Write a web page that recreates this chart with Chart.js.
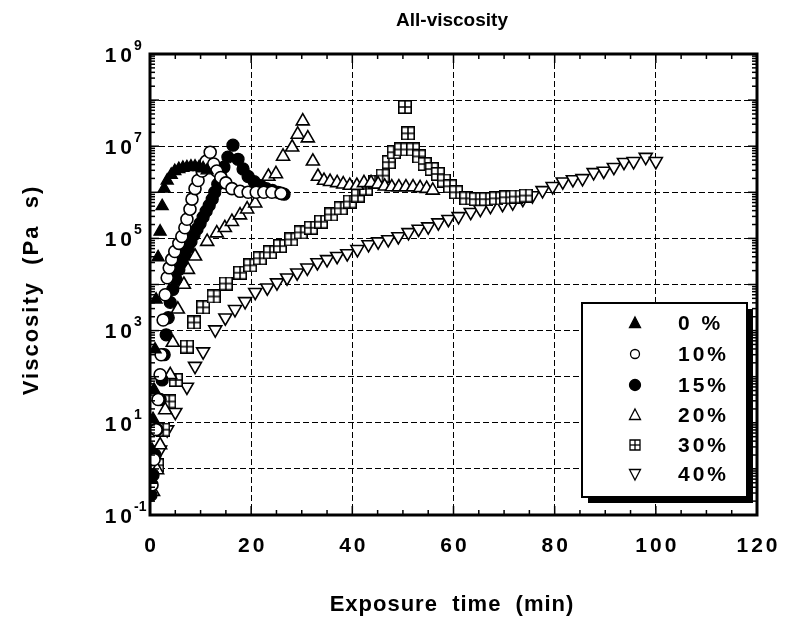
<!DOCTYPE html>
<html>
<head>
<meta charset="utf-8">
<script src="https://cdn.jsdelivr.net/npm/chart.js@4/dist/chart.umd.min.js"></script>
<style>
  body { margin: 0; background: #fff; }
  canvas { display: block; }
</style>
</head>
<body>
<canvas id="myChart" width="794" height="629"></canvas>
<script>
// exposure time (min) and viscosity (Pa s) per filler content
let time0 = [0.2, 0.4, 0.6, 0.8, 1.0, 1.2, 1.6, 2.0, 2.4, 2.8, 3.4, 4.2, 4.9, 5.7, 6.5, 7.3, 8.1, 8.9, 9.7, 10.5, 11.3];
let visc0 = [0.58, 2.6, 12, 52, 390, 4700, 3.9e4, 1.4e5, 5.0e5, 1.2e6, 1.8e6, 2.4e6, 2.9e6, 3.2e6, 3.4e6, 3.5e6, 3.6e6, 3.6e6, 3.5e6, 3.3e6, 3.0e6];

let time10 = [0.4, 0.8, 1.2, 1.6, 2.0, 2.2, 2.6, 3.0, 3.4, 3.8, 4.3, 4.9, 5.7, 6.3, 6.9, 7.3, 7.9, 8.3, 8.9, 9.5, 10.3, 11.1, 11.9, 12.6, 13.2, 14.0, 15.0, 16.2, 17.8, 19.4, 21.0, 22.5, 24.1, 25.9];
let visc10 = [0.45, 1.6, 7.1, 32, 110, 300, 1700, 6000, 1.4e4, 2.3e4, 3.5e4, 5.2e4, 7.8e4, 1.1e5, 1.7e5, 2.6e5, 4.3e5, 7.1e5, 1.2e6, 1.8e6, 2.9e6, 4.7e6, 7.4e6, 4.1e6, 2.9e6, 2.1e6, 1.6e6, 1.2e6, 1.05e6, 1.0e6, 1.0e6, 1.0e6, 1.0e6, 9.5e5];

let time15 = [0.2, 0.6, 1.0, 1.4, 2.0, 2.4, 2.8, 3.2, 3.6, 4.0, 4.5, 5.1, 5.7, 6.3, 6.9, 7.5, 8.1, 8.7, 9.3, 9.9, 10.5, 11.1, 11.7, 12.3, 12.8, 13.4, 14.0, 14.6, 15.4, 16.4, 17.4, 18.4, 19.4, 20.6, 21.8, 23.0, 24.2, 25.3, 26.5];
let visc15 = [0.27, 0.74, 2.0, 7.1, 32, 85, 300, 810, 1900, 4100, 7800, 1.3e4, 2.1e4, 3.2e4, 4.5e4, 6.3e4, 8.5e4, 1.2e5, 1.6e5, 2.1e5, 2.9e5, 3.9e5, 5.2e5, 7.1e5, 1.0e6, 1.5e6, 2.2e6, 3.5e6, 5.8e6, 1.05e7, 5.2e6, 3.2e6, 2.2e6, 1.7e6, 1.4e6, 1.2e6, 1.1e6, 1.0e6, 9.1e5];

let time20 = [0.6, 1.4, 2.0, 3.0, 4.0, 4.5, 5.5, 6.7, 7.5, 8.9, 11.3, 13.2, 14.8, 16.2, 17.8, 19.2, 20.8, 23.4, 24.9, 26.3, 28.1, 29.2, 30.2, 31.2, 32.2, 33.2, 34.4, 35.6, 37.0, 38.2, 39.5, 40.9, 42.3, 43.7, 45.1, 46.4, 47.8, 49.2, 50.6, 52.0, 53.4, 54.7, 55.9];
let visc20 = [0.32, 0.95, 3.3, 19, 110, 550, 2900, 1.0e4, 2.1e4, 4.1e4, 8.5e4, 1.3e5, 1.7e5, 2.3e5, 3.2e5, 4.3e5, 5.8e5, 2.2e6, 2.5e6, 6.0e6, 9.5e6, 1.8e7, 3.5e7, 1.5e7, 4.7e6, 2.2e6, 1.8e6, 1.7e6, 1.6e6, 1.5e6, 1.4e6, 1.4e6, 1.6e6, 1.6e6, 1.5e6, 1.35e6, 1.3e6, 1.3e6, 1.3e6, 1.3e6, 1.25e6, 1.2e6, 1.1e6];

let time30 = [1.4, 2.6, 3.8, 5.1, 7.3, 8.7, 10.5, 12.6, 15.0, 17.8, 19.8, 21.7, 23.7, 25.7, 27.9, 29.8, 31.8, 33.8, 35.8, 37.7, 39.5, 41.1, 42.7, 44.5, 46.0, 47.2, 48.2, 49.6, 50.4, 51.0, 52.0, 53.2, 54.3, 55.7, 56.9, 58.1, 59.3, 60.5, 62.5, 64.4, 66.4, 68.4, 70.4, 72.3, 74.3];
let visc30 = [1.2, 7.1, 29, 85, 450, 1500, 3200, 5500, 1.05e4, 1.8e4, 2.6e4, 3.7e4, 5.0e4, 6.8e4, 9.5e4, 1.35e5, 1.7e5, 2.3e5, 3.3e5, 4.5e5, 6.3e5, 8.5e5, 1.2e6, 1.7e6, 2.3e6, 4.5e6, 7.4e6, 8.5e6, 7.1e7, 1.9e7, 8.5e6, 6.0e6, 4.1e6, 3.2e6, 2.5e6, 1.8e6, 1.35e6, 1.0e6, 7.4e5, 7.1e5, 7.1e5, 7.4e5, 7.8e5, 8.1e5, 8.5e5];

let time40 = [1.0, 2.0, 3.4, 5.0, 7.3, 8.9, 10.5, 12.9, 14.9, 16.8, 18.8, 20.8, 23.2, 25.1, 27.1, 29.1, 31.1, 33.1, 35.0, 37.0, 39.0, 41.0, 43.2, 45.1, 47.1, 49.1, 51.1, 53.1, 55.0, 57.0, 59.0, 61.0, 63.4, 65.3, 67.3, 69.7, 71.7, 73.7, 75.6, 77.6, 79.6, 81.6, 83.6, 85.5, 87.7, 89.7, 91.7, 93.7, 95.6, 98.0, 100.0];
let visc40 = [0.95, 2.6, 7.1, 17, 60, 170, 350, 1050, 1900, 2900, 4300, 6800, 8500, 1.1e4, 1.4e4, 1.8e4, 2.3e4, 3.0e4, 3.5e4, 4.1e4, 4.7e4, 5.8e4, 7.4e4, 8.5e4, 9.5e4, 1.1e5, 1.35e5, 1.6e5, 1.8e5, 2.2e5, 2.6e5, 3.0e5, 3.7e5, 4.3e5, 5.0e5, 5.5e5, 6.0e5, 7.1e5, 8.5e5, 1.1e6, 1.35e6, 1.7e6, 1.9e6, 2.0e6, 2.7e6, 2.9e6, 3.5e6, 4.5e6, 4.7e6, 5.8e6, 4.7e6];

let seriesLabels = ['0 %', '10%', '15%', '20%', '30%', '40%'];
let xTicks = [0, 20, 40, 60, 80, 100, 120];
let yTickExps = [-1, 1, 3, 5, 7, 9];

const FONT = '"Liberation Sans", Arial, sans-serif';

// square with a cross for the 30% series
let boxCross = document.createElement('canvas');
boxCross.width = 14;
boxCross.height = 14;
let bc = boxCross.getContext('2d');
bc.fillStyle = '#fff';
bc.fillRect(0, 0, 14, 14);
bc.strokeStyle = '#000';
bc.lineWidth = 1.6;
bc.strokeRect(0.8, 0.8, 12.4, 12.4);
bc.beginPath();
bc.moveTo(7, 1); bc.lineTo(7, 13);
bc.moveTo(1, 7); bc.lineTo(13, 7);
bc.stroke();

function pts(t, v) {
    let out = [];
    for (let i = 0; i < t.length; i++) out = [...out, {x: t[i], y: v[i]}];
    return out;
}

let datasets = [
    {label: seriesLabels[0], data: pts(time0, visc0), pointStyle: 'triangle', pointRadius: 7, backgroundColor: '#000', borderColor: '#000', borderWidth: 1.3},
    {label: seriesLabels[1], data: pts(time10, visc10), pointStyle: 'circle', pointRadius: 6, backgroundColor: '#fff', borderColor: '#000', borderWidth: 1.6},
    {label: seriesLabels[2], data: pts(time15, visc15), pointStyle: 'circle', pointRadius: 6, backgroundColor: '#000', borderColor: '#000', borderWidth: 1.3},
    {label: seriesLabels[3], data: pts(time20, visc20), pointStyle: 'triangle', pointRadius: 7.5, backgroundColor: '#fff', borderColor: '#000', borderWidth: 1.6},
    {label: seriesLabels[4], data: pts(time30, visc30), pointStyle: boxCross, pointRadius: 7, backgroundColor: '#fff', borderColor: '#000', borderWidth: 1.6},
    {label: seriesLabels[5], data: pts(time40, visc40), pointStyle: 'triangle', rotation: 180, pointRadius: 7.5, backgroundColor: '#fff', borderColor: '#000', borderWidth: 1.6}
];

function seg(ctx, x1, y1, x2, y2) {
    ctx.beginPath();
    ctx.moveTo(x1, y1);
    ctx.lineTo(x2, y2);
    ctx.stroke();
}

function legendMark(ctx, i, cx, cy) {
    ctx.strokeStyle = '#000';
    ctx.lineWidth = 1.3;
    ctx.fillStyle = (i === 0 || i === 2) ? '#000' : '#fff';
    ctx.beginPath();
    if (i === 0 || i === 3) {
        ctx.moveTo(cx, cy - 6); ctx.lineTo(cx + 5.5, cy + 4.5); ctx.lineTo(cx - 5.5, cy + 4.5); ctx.closePath();
    } else if (i === 5) {
        ctx.moveTo(cx, cy + 6); ctx.lineTo(cx + 5.5, cy - 4.5); ctx.lineTo(cx - 5.5, cy - 4.5); ctx.closePath();
    } else if (i === 1) {
        ctx.arc(cx, cy, 4.5, 0, Math.PI * 2);
    } else if (i === 2) {
        ctx.arc(cx, cy, 5.5, 0, Math.PI * 2);
    } else {
        ctx.rect(cx - 5, cy - 5, 10, 10);
    }
    ctx.fill();
    ctx.stroke();
    if (i === 4) {
        seg(ctx, cx, cy - 5, cx, cy + 5);
        seg(ctx, cx - 5, cy, cx + 5, cy);
    }
}

const decor = {
    id: 'decor',
    afterDraw(chart) {
        const ctx = chart.ctx;
        const a = chart.chartArea;
        const x = chart.scales.x;
        const y = chart.scales.y;
        ctx.save();
        ctx.strokeStyle = '#000';

        // inward ticks
        ctx.lineWidth = 1.5;
        for (let e = -1; e <= 9; e++) {
            const py = y.getPixelForValue(Math.pow(10, e));
            seg(ctx, a.left, py, a.left + 9, py);
            seg(ctx, a.right - 9, py, a.right, py);
            if (e < 9) {
                for (let m = 2; m <= 9; m++) {
                    const pm = y.getPixelForValue(m * Math.pow(10, e));
                    seg(ctx, a.left, pm, a.left + 5, pm);
                    seg(ctx, a.right - 5, pm, a.right, pm);
                }
            }
        }
        for (let t = 0; t <= 120; t += 5) {
            const px = x.getPixelForValue(t);
            const len = t % 20 === 0 ? 9 : 5;
            seg(ctx, px, a.bottom, px, a.bottom - len);
            seg(ctx, px, a.top, px, a.top + len);
        }

        // frame
        ctx.lineWidth = 3;
        ctx.strokeRect(a.left, a.top, a.right - a.left, a.bottom - a.top);

        // texts
        ctx.fillStyle = '#000';
        ctx.textBaseline = 'middle';

        ctx.font = 'bold 19px ' + FONT;
        ctx.textAlign = 'center';
        ctx.letterSpacing = '0px';
        ctx.fillText('All-viscosity', 452, 21);

        ctx.font = 'bold 21px ' + FONT;
        ctx.letterSpacing = '3px';
        for (const t of xTicks) {
            ctx.fillText(String(t), x.getPixelForValue(t) + 1.5, 546);
        }

        for (const e of yTickExps) {
            const py = y.getPixelForValue(Math.pow(10, e));
            ctx.font = 'bold 21px ' + FONT;
            ctx.letterSpacing = '4px';
            ctx.textAlign = 'right';
            ctx.fillText('10', 136, py + 2);
            ctx.font = 'bold 14px ' + FONT;
            ctx.letterSpacing = '0px';
            ctx.textAlign = 'left';
            ctx.fillText(e < 0 ? '-' + Math.abs(e) : String(e), 134, py - 8);
        }

        ctx.font = 'bold 22px ' + FONT;
        ctx.letterSpacing = '1px';
        ctx.textAlign = 'center';
        ctx.fillText('Exposure  time  (min)', 452, 605);
        ctx.save();
        ctx.translate(32, 290);
        ctx.rotate(-Math.PI / 2);
        ctx.letterSpacing = '2px';
        ctx.fillText('Viscosity  (Pa  s)', 0, 0);
        ctx.restore();

        // legend box with shadow
        ctx.fillStyle = '#000';
        ctx.fillRect(588, 309, 165, 194);
        ctx.fillStyle = '#fff';
        ctx.fillRect(582, 303, 165, 194);
        ctx.lineWidth = 2;
        ctx.strokeRect(582, 303, 165, 194);
        const rows = [323, 354, 385, 415, 445, 474];
        ctx.font = 'bold 21px ' + FONT;
        ctx.letterSpacing = '3px';
        ctx.textAlign = 'left';
        for (let i = 0; i < seriesLabels.length; i++) {
            legendMark(ctx, i, 635, rows[i]);
            ctx.fillStyle = '#000';
            ctx.fillText(seriesLabels[i], 678, rows[i] + 1);
        }
        ctx.restore();
    }
};

let ctx = document.getElementById('myChart').getContext('2d');

let myChart = new Chart(ctx, {
    type: 'scatter',
    data: {datasets: datasets},
    options: {
        responsive: false,
        animation: false,
        layout: {padding: {left: 150, right: 37, top: 54, bottom: 114}},
        plugins: {
            legend: {display: false},
            tooltip: {enabled: false},
            title: {display: false}
        },
        scales: {
            x: {
                type: 'linear',
                min: 0,
                max: 120,
                afterFit: s => { s.height = 0; },
                afterBuildTicks: s => { s.ticks = xTicks.map(v => ({value: v})); },
                ticks: {display: false},
                grid: {color: '#000', lineWidth: 1, drawTicks: false},
                border: {display: false, dash: [6, 3]}
            },
            y: {
                type: 'logarithmic',
                min: 0.1,
                max: 1e9,
                afterFit: s => { s.width = 0; },
                afterBuildTicks: s => {
                    let t = [];
                    for (let e = -1; e <= 9; e++) t = [...t, {value: Math.pow(10, e)}];
                    s.ticks = t;
                },
                ticks: {display: false},
                grid: {color: '#000', lineWidth: 1, drawTicks: false},
                border: {display: false, dash: [6, 3]}
            }
        }
    },
    plugins: [decor]
});
</script>
</body>
</html>
